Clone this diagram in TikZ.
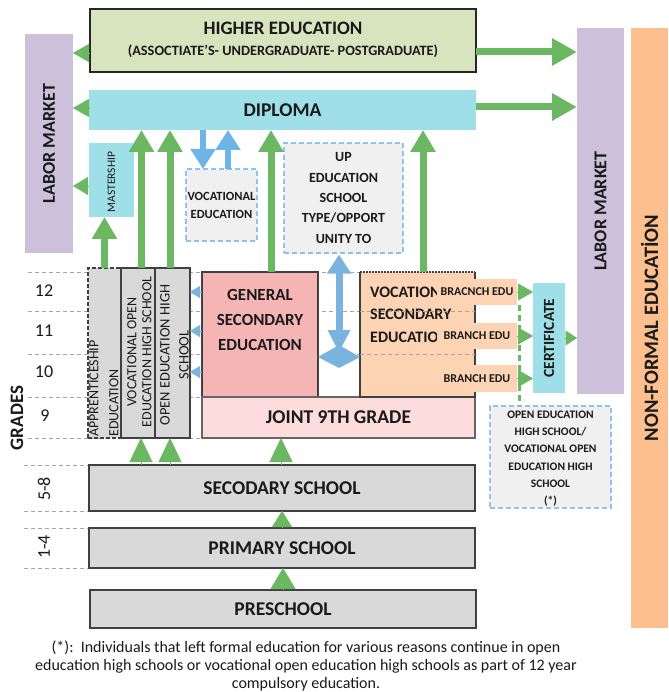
\documentclass[tikz,border=0pt]{standalone}
\usepackage{fontspec}
\setmainfont{Carlito}
\usetikzlibrary{arrows.meta,calc}
\definecolor{hegreen}{HTML}{D7E4BD}
\definecolor{cyanb}{HTML}{9EDFE8}
\definecolor{purp}{HTML}{CCC0DA}
\definecolor{orng}{HTML}{FDBF8D}
\definecolor{garr}{HTML}{6CB862}
\definecolor{barr}{HTML}{7AB4DE}
\definecolor{barr2}{HTML}{6FB4E6}
\definecolor{pinkb}{HTML}{F6B5B5}
\definecolor{pinkl}{HTML}{FCDCDC}
\definecolor{peach}{HTML}{FCD3B3}
\definecolor{grayb}{HTML}{D9D9D9}
\definecolor{grayl}{HTML}{F0F0F0}
\definecolor{dashb}{HTML}{8EC3EA}
\definecolor{bord}{HTML}{404040}
\definecolor{gline}{HTML}{A6A6A6}
\definecolor{txt}{HTML}{1A1A1A}
\newcommand\fsz[2]{\fontsize{#1}{#2}\selectfont}
\newcommand\bx[7]{\node[#6, minimum width={(#4)-(#2)}, minimum height={(#5)-(#3)}] (#1) at ({((#2)+(#4))/2},{((#3)+(#5))/2}) {#7};}
\begin{document}
\begin{tikzpicture}[x=1pt,y=-1pt,
  box/.style={inner sep=0pt, outer sep=0pt, align=center, text=txt},
  solidb/.style={box, draw=bord, line width=1.1pt},
  dashlb/.style={box, fill=grayl, draw=dashb, line width=1.1pt, dash pattern=on 5pt off 3pt},
  gridl/.style={draw=gline, line width=0.9pt, dash pattern=on 4pt off 3pt},
  garrow/.style={draw=garr, line width=7pt, -{Triangle[width=24pt,length=22pt]}},
  garrowh/.style={draw=garr, line width=7pt, -{Triangle[width=26pt,length=25pt]}},
  barrow/.style={draw=barr2, line width=6pt, -{Triangle[width=24pt,length=20pt]}},
  ghead/.style 2 args={draw=garr, line width=0.1pt, -{Triangle[width=#1pt,length=#2pt]}},
  bhead/.style 2 args={draw=barr, line width=0.1pt, -{Triangle[width=#1pt,length=#2pt]}},
  lbl/.style={text=txt, inner sep=0pt, align=center},
]
\useasboundingbox (0,0) rectangle (668,692);
\fill[white] (0,0) rectangle (668,692);

% grade guide lines
\foreach \yy in {272,311,354,397,438}{\draw[gridl] (28,\yy) -- (475,\yy);}
\foreach \yy in {465,511,528,568}{\draw[gridl] (24,\yy) -- (89,\yy);}

% top boxes
\bx{he}{90}{9}{476}{72}{solidb, fill=hegreen, draw=black!85, line width=1.3pt}{}
\node[lbl, font=\fsz{19}{22}\bfseries] (het1) at ([yshift=12.5pt]he.center) {HIGHER EDUCATION};
\node[lbl, font=\fsz{14.3}{16}\bfseries] (het2) at ([yshift=-10.5pt]he.center) {(ASSOCTIATE’S- UNDERGRADUATE- POSTGRADUATE)};
\bx{dip}{89}{90}{476}{130}{box, fill=cyanb, font=\fsz{19.5}{23}\bfseries}{DIPLOMA}
\bx{lml}{25}{34}{73}{253}{box, fill=purp}{}
\node[lbl, rotate=90, font=\fsz{18}{22}\bfseries] (lmlt) at (lml.center) {LABOR MARKET};
\bx{lmr}{577}{28}{624}{394}{box, fill=purp}{}
\node[lbl, rotate=90, font=\fsz{18}{22}\bfseries] (lmrt) at (lmr.center) {LABOR MARKET};
\bx{nfe}{631}{28}{668}{628}{box, fill=orng}{}
\node[lbl, rotate=90, font=\fsz{20.5}{24}\bfseries] (nfet) at (nfe.center) {NON-FORMAL EDUCATİON};
\bx{mas}{89}{143}{134}{217}{box, fill=cyanb}{}
\node[lbl, rotate=90, font=\fsz{11.5}{14}] (mast) at ([yshift=-2pt]mas.center) {MASTERSHIP};
\bx{voc}{186}{169}{257}{241}{dashlb, font=\fsz{12.5}{18}\bfseries}{VOCATIONAL\\EDUCATION}
\bx{up}{284}{143}{403}{253}{dashlb, font=\fsz{14}{20.4}\bfseries}{UP\\EDUCATION\\SCHOOL\\TYPE/OPPORT\\UNITY TO}

% left columns
\bx{app}{88}{268}{121}{438}{box, fill=grayb, draw=bord, line width=1.1pt, dash pattern=on 4pt off 2pt}{}
\node[lbl, rotate=90, anchor=north west, align=left, font=\fsz{14}{20}] (appt) at (89,437) {APPRENTICESHIP\\EDUCATION};
\bx{vo}{121}{268}{155}{438}{solidb, fill=grayb}{}
\node[lbl, rotate=90, font=\fsz{14}{15}] (vot) at (139.5,352) {VOCATIONAL OPEN\\EDUCATION HIGH SCHOOL};
\bx{oe}{155}{268}{190}{438}{solidb, fill=grayb}{}
\node[lbl, rotate=90, font=\fsz{14.5}{19}] (oet) at (174.5,355) {OPEN EDUCATION HIGH\\SCHOOL};

% secondary level
\bx{gse}{202}{272}{318}{397}{solidb, fill=pinkb}{}
\node[lbl, font=\fsz{17}{25}\bfseries] (gset) at ([yshift=14.5pt]gse.center) {GENERAL\\SECONDARY\\EDUCATION};
\bx{j9}{202}{397}{475}{438}{box, fill=pinkl, draw=bord!80, line width=1.1pt, font=\fsz{19.5}{23}\bfseries}{JOINT 9TH GRADE}
\bx{vse}{360}{272}{475}{397}{box, fill=peach}{}
\draw[draw=bord, line width=1.1pt] (vse.north west) -- (vse.south west) -- (vse.south east) -- (vse.north east);
\draw[draw=bord, line width=1.1pt, dash pattern=on 1.5pt off 1.5pt] (vse.north west) -- (vse.north east);
\node[lbl, anchor=north west, align=left, font=\fsz{16}{22.5}\bfseries] (vset) at (370,286.5) {VOCATIONAL\\SECONDARY\\EDUCATION};
\foreach \yy in {311,354}{\draw[gridl] (360,\yy) -- (475,\yy);}
\bx{b1}{437}{279}{517}{305}{box, fill=peach, font=\fsz{12}{14}\bfseries}{BRACNCH EDU}
\bx{b2}{437}{323}{517}{349}{box, fill=peach, font=\fsz{12}{14}\bfseries}{BRANCH EDU}
\bx{b3}{437}{365}{517}{392}{box, fill=peach, font=\fsz{12}{14}\bfseries}{BRANCH EDU}
\bx{cert}{533}{283}{565}{393}{box, fill=cyanb}{}
\node[lbl, rotate=90, font=\fsz{15.5}{18}\bfseries] (certt) at (cert.center) {CERTIFICATE};
\bx{ob}{490}{406}{611}{508}{dashlb}{}
\node[lbl, font=\fsz{11.5}{17.3}\bfseries] (obt) at ([yshift=-1.5pt]ob.center) {OPEN EDUCATION\\HIGH SCHOOL/\\VOCATIONAL OPEN\\EDUCATION HIGH\\SCHOOL\\(*)};

% lower boxes
\bx{sec}{89}{465}{475}{511}{solidb, fill=grayb, font=\fsz{19.5}{23}\bfseries}{SECODARY SCHOOL}
\bx{pri}{89}{528}{475}{568}{solidb, fill=grayb, font=\fsz{19.5}{23}\bfseries}{PRIMARY SCHOOL}
\bx{pre}{90}{590}{476}{628}{solidb, fill=grayb, font=\fsz{19.5}{23}\bfseries}{PRESCHOOL}

% grade labels
\node[lbl, font=\fsz{18}{20}] (g12) at (44,291) {12};
\node[lbl, font=\fsz{18}{20}] (g11) at (44,331) {11};
\node[lbl, font=\fsz{18}{20}] (g10) at (44,372) {10};
\node[lbl, font=\fsz{18}{20}] (g9) at (45,416) {9};
\node[lbl, rotate=90, font=\fsz{18}{20}] (g58) at (44,489) {5-8};
\node[lbl, rotate=90, font=\fsz{18}{20}] (g14) at (44,547) {1-4};
\node[lbl, rotate=90, font=\fsz{19}{22}\bfseries] (grades) at (17,418) {GRADES};

% arrows to left labor market
\coordinate (hl) at ([yshift=-12.5pt]he.west);
\coordinate (dl) at ([yshift=2pt]dip.west);
\coordinate (ml) at ([yshift=-6pt]mas.west);
\draw[ghead={18}{16}] (hl) -- (hl -| lml.east);
\draw[ghead={18}{16}] (dl) -- (dl -| lml.east);
\draw[ghead={18}{15}] (ml) -- (ml -| lml.east);
% arrows to right labor market
\coordinate (hr) at ([yshift=-11.5pt]he.east);
\coordinate (dr) at ([yshift=3pt]dip.east);
\draw[garrowh] (hr) -- (hr -| lmr.west);
\draw[garrowh] (dr) -- (dr -| lmr.west);

% vertical green arrows up to diploma / mastership
\draw[garrow] (app.north) -- (app.north |- mas.south);
\coordinate (vx) at ([xshift=3.5pt]vo.north);
\coordinate (ox) at ([xshift=-2.5pt]oe.north);
\coordinate (gx) at ([xshift=11pt]gse.north);
\coordinate (wx) at ([xshift=5.5pt]vse.north);
\draw[garrow] (vx) -- (vx |- dip.south);
\draw[garrow] (ox) -- (ox |- dip.south);
\draw[garrow] (gx) -- (gx |- dip.south);
\draw[garrow] (wx) -- (wx |- dip.south);

% blue arrows diploma <-> vocational education
\coordinate (vd) at ([xshift=-18.5pt]voc.north);
\coordinate (vu) at ([xshift=6.5pt]voc.north);
\draw[barrow] (vd |- dip.south) -- (vd);
\draw[barrow] (vu) -- (vu |- dip.south);

% blue double arrow between general and vocational secondary
\coordinate (dbl) at ($(gse.east)!0.5!(vse.west)$);
\coordinate (dm) at ($(dbl)+(0,22.5)$);
\draw[draw=barr, line width=7pt, {Triangle[width=23pt,length=19pt]}-] ([yshift=-1.5pt]dbl |- up.south) -- ($(dm)+(0,-20)$);
\fill[barr] ($(dm)+(-11.5,-27)$) -- ($(dm)+(11.5,-27)$) -- ($(dm)+(0,-5)$) -- cycle;
\fill[barr] (gse.east |- dm) -- ($(dm)+(0,-12)$) -- (vse.west |- dm) -- ($(dm)+(0,11)$) -- cycle;

% blue heads general secondary -> open education columns
\coordinate (r12) at (0,292);
\coordinate (r11) at (0,331);
\coordinate (r10) at (0,372);
\draw[bhead={12}{10}] (r12 -| gse.west) -- (r12 -| oe.east);
\draw[bhead={12}{10}] (r11 -| gse.west) -- (r11 -| oe.east);
\draw[bhead={12}{10}] (r10 -| gse.west) -- (r10 -| oe.east);

% branch -> certificate -> labor market
\draw[ghead={17}{15}] (b1.east) -- (b1.east -| cert.west);
\draw[ghead={17}{15}] (b2.east) -- (b2.east -| cert.west);
\draw[ghead={17}{15}] (b3.east) -- (b3.east -| cert.west);
\draw[ghead={15}{11.5}] (cert.east) -- (cert.east -| lmr.west);
\coordinate (gd) at ([xshift=2pt]b1.south east);
\draw[draw=garr, line width=3pt, dash pattern=on 6pt off 4pt] (gd) -- (gd |- ob.north);

% heads from secondary school upward
\coordinate (s1) at ([xshift=3pt]vo.south);
\coordinate (s2) at ([xshift=-2.5pt]oe.south);
\coordinate (s3) at ([xshift=-57.5pt]j9.south);
\draw[ghead={23}{24}] (s1 |- sec.north) -- (s1);
\draw[ghead={23}{24}] (s2 |- sec.north) -- (s2);
\draw[ghead={23}{24}] (s3 |- sec.north) -- (s3);
\draw[ghead={20}{16}] (pri.north) -- (pri.north |- sec.south);
\draw[ghead={25}{21}] (pre.north) -- (pre.north |- pri.south);

% footnote
\node[lbl, font=\fsz{16}{18}] (fn) at (306,666) {(*):\ \ Individuals that left formal education for various reasons continue in open\\education high schools or vocational open education high schools as part of 12 year\\compulsory education.};
\end{tikzpicture}
\end{document}
